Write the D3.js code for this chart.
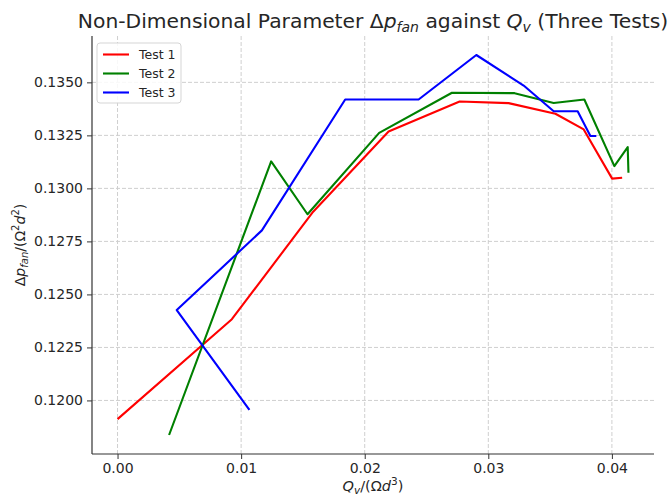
<!DOCTYPE html>
<html>
<head>
<meta charset="utf-8">
<script src="https://cdn.jsdelivr.net/npm/d3@7"></script>
<style>
  body { margin: 0; background: #fff; }
  text { font-family: "DejaVu Sans", sans-serif; fill: #262626; }
</style>
</head>
<body>
<div id="chart"></div>
<script>
// values
var test1_x = [0.0000, 0.00925, 0.01583, 0.02193, 0.02768, 0.03164, 0.03543, 0.03772, 0.04002, 0.04083];
var test1_y = [0.11912, 0.12383, 0.12890, 0.13268, 0.13410, 0.13402, 0.13352, 0.13278, 0.13046, 0.13050];
var test2_x = [0.00417, 0.01243, 0.01537, 0.02117, 0.02706, 0.03213, 0.03529, 0.03777, 0.04020, 0.04128, 0.04134];
var test2_y = [0.11837, 0.13127, 0.12878, 0.13262, 0.13451, 0.13449, 0.13403, 0.13419, 0.13105, 0.13195, 0.13074];
var test3_x = [0.01067, 0.00479, 0.01168, 0.01842, 0.02436, 0.02903, 0.03286, 0.03529, 0.03723, 0.03826, 0.03874];
var test3_y = [0.11955, 0.12426, 0.12802, 0.13419, 0.13419, 0.13629, 0.13485, 0.13364, 0.13364, 0.13247, 0.13247];
var series_names = ["Test 1", "Test 2", "Test 3"];
var series_colors = ["#ff0000", "#008000", "#0000ff"];
var x_ticks = [0.00, 0.01, 0.02, 0.03, 0.04];
var y_ticks = [0.1200, 0.1225, 0.1250, 0.1275, 0.1300, 0.1325, 0.1350];

var W = 671, H = 496;
var margin = {top: 36, right: 17, bottom: 42, left: 92},
    width = W - margin.left - margin.right,
    height = H - margin.top - margin.bottom;

var series = [
  {name: series_names[0], color: series_colors[0], pts: d3.zip(test1_x, test1_y)},
  {name: series_names[1], color: series_colors[1], pts: d3.zip(test2_x, test2_y)},
  {name: series_names[2], color: series_colors[2], pts: d3.zip(test3_x, test3_y)}
];

var allx = test1_x.concat(test2_x, test3_x),
    ally = test1_y.concat(test2_y, test3_y);

// matplotlib style 5% margins
function padded(ext) {
  var p = (ext[1] - ext[0]) * 0.05;
  return [ext[0] - p, ext[1] + p];
}

var x = d3.scaleLinear().domain(padded(d3.extent(allx))).range([0, width]);
var y = d3.scaleLinear().domain(padded(d3.extent(ally))).range([height, 0]);

var svg = d3.select("#chart").append("svg")
    .attr("width", W)
    .attr("height", H);

var g = svg.append("g")
    .attr("transform", "translate(" + margin.left + "," + margin.top + ")");

// grid
g.append("g").selectAll("line").data(x_ticks).enter().append("line")
    .attr("x1", function(d) { return x(d); }).attr("x2", function(d) { return x(d); })
    .attr("y1", 0).attr("y2", height)
    .attr("stroke", "#cfcfcf").attr("stroke-width", 1).attr("stroke-dasharray", "4,2");
g.append("g").selectAll("line").data(y_ticks).enter().append("line")
    .attr("y1", function(d) { return y(d); }).attr("y2", function(d) { return y(d); })
    .attr("x1", 0).attr("x2", width)
    .attr("stroke", "#cfcfcf").attr("stroke-width", 1).attr("stroke-dasharray", "4,2");

// lines
var line = d3.line()
    .x(function(d) { return x(d[0]); })
    .y(function(d) { return y(d[1]); });

g.selectAll(".series").data(series).enter().append("path")
    .attr("class", "series")
    .attr("d", function(d) { return line(d.pts); })
    .attr("fill", "none")
    .attr("stroke", function(d) { return d.color; })
    .attr("stroke-width", 2.1)
    .attr("stroke-linejoin", "round");

// axes
var xAxis = g.append("g")
    .attr("transform", "translate(0," + height + ")")
    .call(d3.axisBottom(x).tickValues(x_ticks).tickFormat(d3.format(".2f")).tickSizeOuter(0).tickSize(5).tickPadding(4));
var yAxis = g.append("g")
    .call(d3.axisLeft(y).tickValues(y_ticks).tickFormat(d3.format(".4f")).tickSizeOuter(0).tickSize(5).tickPadding(4));

[xAxis, yAxis].forEach(function(a) {
  a.select(".domain").attr("stroke", "#333").attr("stroke-width", 1.2);
  a.selectAll(".tick line").attr("stroke", "#333");
  a.selectAll(".tick text").attr("font-size", 14).attr("font-family", "DejaVu Sans").attr("fill", "#262626");
});
xAxis.select(".domain").attr("d", "M0,0H" + width);
yAxis.select(".domain").attr("d", "M0,0V" + height);

// title
var title = svg.append("text")
    .attr("x", margin.left + width / 2)
    .attr("y", 28)
    .attr("text-anchor", "middle")
    .attr("font-size", 20.3);
title.append("tspan").text("Non-Dimensional Parameter Δ");
title.append("tspan").attr("font-style", "italic").text("p");
title.append("tspan").attr("font-style", "italic").attr("font-size", 14).attr("dy", 4).text("fan");
title.append("tspan").attr("dy", -4).text(" against ");
title.append("tspan").attr("font-style", "italic").text("Q");
title.append("tspan").attr("font-style", "italic").attr("font-size", 14).attr("dy", 4).text("v");
title.append("tspan").attr("dy", -4).text(" (Three Tests)");

// x label
var xl = svg.append("text")
    .attr("x", margin.left + width / 2)
    .attr("y", 491)
    .attr("text-anchor", "middle")
    .attr("font-size", 14.5);
xl.append("tspan").attr("font-style", "italic").text("Q");
xl.append("tspan").attr("font-style", "italic").attr("font-size", 10.5).attr("dy", 3).text("v");
xl.append("tspan").attr("dy", -3).text("/(Ω");
xl.append("tspan").attr("font-style", "italic").text("d");
xl.append("tspan").attr("font-size", 10.5).attr("dy", -6).text("3");
xl.append("tspan").attr("dy", 6).text(")");

// y label
var yl = svg.append("text")
    .attr("transform", "translate(25," + (margin.top + height / 2) + ") rotate(-90)")
    .attr("text-anchor", "middle")
    .attr("font-size", 14);
yl.append("tspan").text("Δ");
yl.append("tspan").attr("font-style", "italic").text("p");
yl.append("tspan").attr("font-style", "italic").attr("font-size", 10).attr("dy", 3).text("fan");
yl.append("tspan").attr("dy", -3).text("/(Ω");
yl.append("tspan").attr("font-size", 10).attr("dy", -6).text("2");
yl.append("tspan").attr("dy", 6).attr("font-style", "italic").text("d");
yl.append("tspan").attr("font-size", 10).attr("dy", -6).text("2");
yl.append("tspan").attr("dy", 6).text(")");

// legend
var lg = g.append("g").attr("transform", "translate(5,7)");
lg.append("rect")
    .attr("width", 84).attr("height", 60).attr("rx", 3)
    .attr("fill", "#fff").attr("fill-opacity", 0.85)
    .attr("stroke", "#d5d5d5").attr("stroke-width", 1);
var items = lg.selectAll(".item").data(series).enter().append("g")
    .attr("transform", function(d, i) { return "translate(0," + (11.5 + i * 19) + ")"; });
items.append("line")
    .attr("x1", 6).attr("x2", 32)
    .attr("stroke", function(d) { return d.color; })
    .attr("stroke-width", 2.1);
items.append("text")
    .attr("x", 42).attr("y", 4.5)
    .attr("font-size", 12.5)
    .text(function(d) { return d.name; });
</script>
</body>
</html>
